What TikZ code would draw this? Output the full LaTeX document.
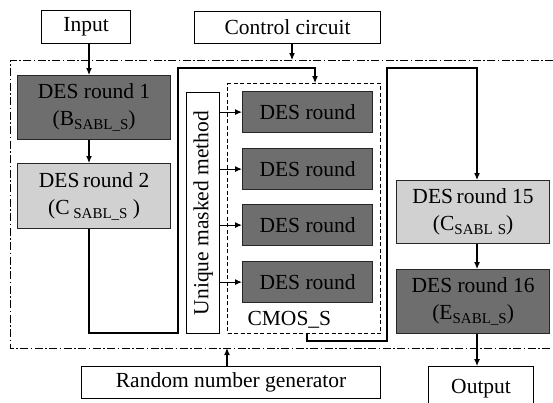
\documentclass[tikz,border=0pt]{standalone}
\usepackage{fontspec}
\setmainfont{Liberation Serif}
\usetikzlibrary{arrows.meta}
\newcommand\lowtxt[1]{\raisebox{-4pt}{\fontsize{15}{15}\selectfont #1}}
\tikzset{
  box/.style={draw, line width=1.2pt, inner sep=0pt, anchor=north west, align=center,
    font=\fontsize{21.5}{27}\selectfont},
  darkbox/.style={box, fill=black!57, draw=black!85},
  lightbox/.style={box, fill=black!18, draw=black!85},
  wire/.style={line width=1.1pt},
  arr/.style={wire, -{Latex[length=7pt,width=6pt]}},
}
\begin{document}
\begin{tikzpicture}[x=1pt,y=-1pt]
\useasboundingbox (0,0) rectangle (553,402);
% outer dash-dot region
\draw[line width=1pt, dash pattern=on 8pt off 2.5pt on 1.5pt off 2.5pt] (553,60) -- (10,60) -- (10,348) -- (553,348);
% boxes
\node[box, minimum width=89, minimum height=33] (in) at (41,10) {Input};
\node[box, minimum width=186, minimum height=32] (ctrl) at (194,11) {Control circuit};
\node[darkbox, minimum width=153, minimum height=64] (r1) at (17,75) {DES round 1\\(B\lowtxt{SABL\_S})};
\node[lightbox, minimum width=153, minimum height=65] (r2) at (17,163) {DES\,round 2\\(C\lowtxt{ SABL\_S} )};
\node[box, minimum width=33, minimum height=241] (um) at (186,92) {};
\node[rotate=90, font=\fontsize{21.5}{24}\selectfont] (umt) at (um.center) {Unique masked method};
\node[draw, dash pattern=on 4pt off 2.5pt, line width=1pt, minimum width=153, minimum height=250, anchor=north west, inner sep=0pt] (cm) at (227,83) {};
\node[font=\fontsize{21.5}{24}\selectfont, anchor=south west] (cml) at (244,332) {CMOS\_S};
\node[darkbox, minimum width=130, minimum height=41] (d1) at (242,91) {DES round};
\node[darkbox, minimum width=130, minimum height=41] (d2) at (242,148) {DES round};
\node[darkbox, minimum width=130, minimum height=41] (d3) at (242,204) {DES round};
\node[darkbox, minimum width=130, minimum height=41] (d4) at (242,261) {DES round};
\node[lightbox, minimum width=153, minimum height=63] (r15) at (396,180) {DES\,round 15\\(C\lowtxt{SABL\,\,S})};
\node[darkbox, minimum width=153, minimum height=64] (r16) at (396,269) {DES round 16\\(E\lowtxt{SABL\_S})};
\node[box, minimum width=299, minimum height=32] (rng) at (81,366) {Random number generator};
\node[box, minimum width=105, minimum height=46] (out) at (428,366) {\raisebox{6pt}{Output}};
% coordinates
\coordinate (ctrlA) at (292,43);
\coordinate (ctrlB) at (292,60);
\coordinate (rngB) at (227,348);
% connectors
\draw[arr] (in.south -| 89,0) -- (r1.north -| 89,0);
\draw[arr] (ctrlA) -- (ctrlB);
\draw[arr] (r1.south -| 89,0) -- (r2.north -| 89,0);
\draw[arr] (r2.south -| 89,0) -- (89,333) -- (178,333) -- (178,68) -- (315,68) -- (cm.north -| 315,0);
\foreach \d in {d1,d2,d3,d4}{\draw[arr] (um.east |- \d.west) -- (\d.west);}
\draw[arr] (cm.south -| 307,0) -- (307,341) -- (387,341) -- (387,68) -- (477,68) -- (r15.north -| 477,0);
\draw[arr] (r15.south -| 477,0) -- (r16.north -| 477,0);
\draw[arr] (r16.south -| 477,0) -- (out.north -| 477,0);
\draw[arr] (rng.north -| rngB) -- (rngB);
\end{tikzpicture}
\end{document}
